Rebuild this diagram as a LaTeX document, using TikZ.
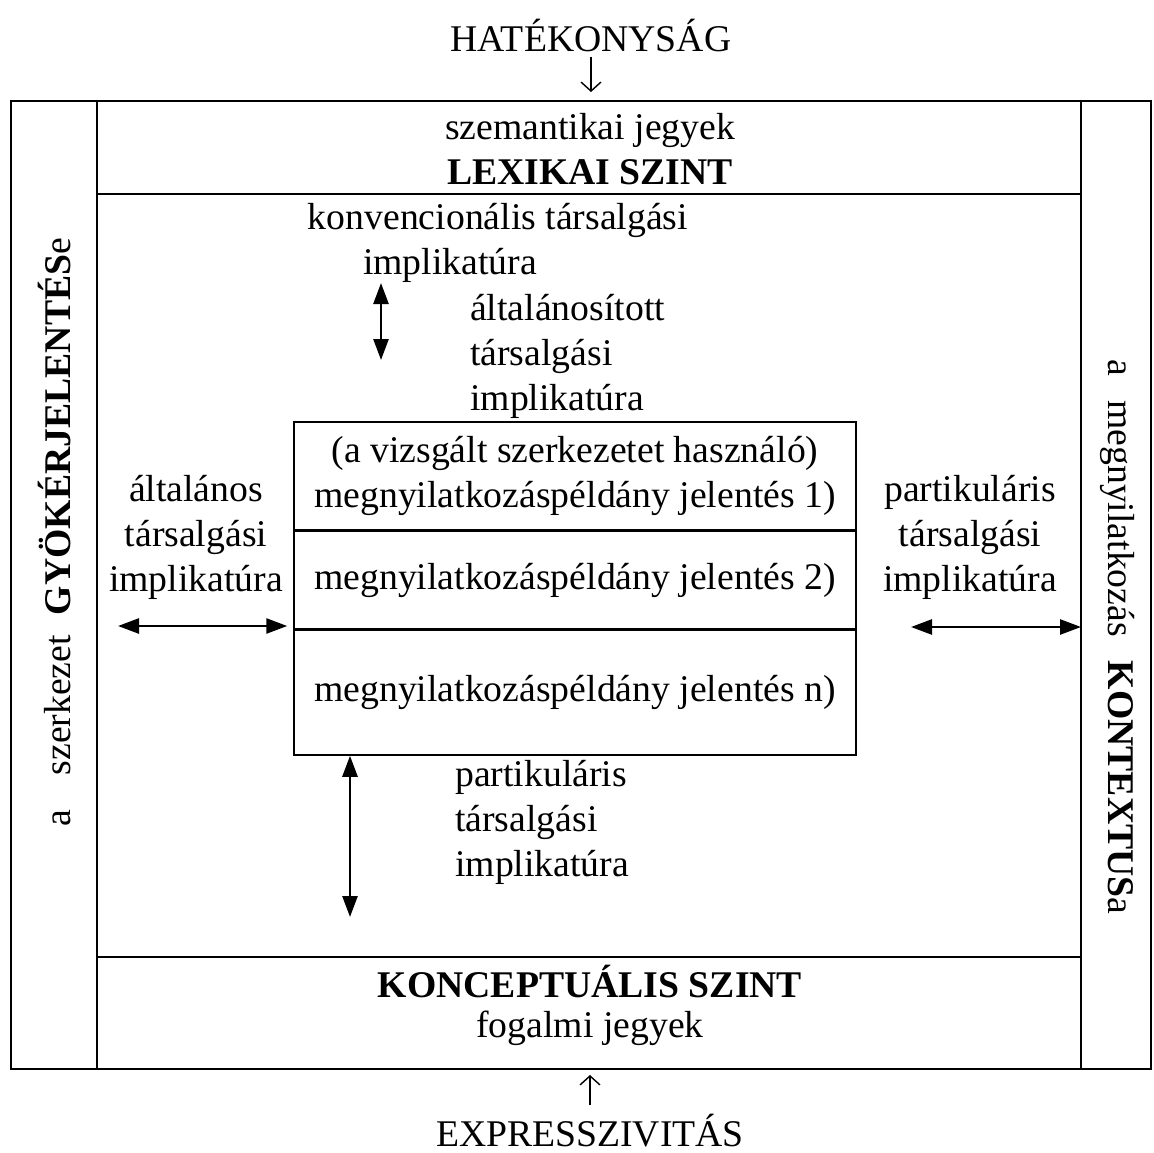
\documentclass[tikz,border=0pt]{standalone}
\usepackage{fontspec}
\setmainfont{Liberation Serif}
\usetikzlibrary{arrows.meta, positioning}

\begin{document}
\begin{tikzpicture}[
    x=1pt, y=-1pt,
    frame/.style={draw, line width=1.5pt},
    txt/.style={
        inner sep=0pt,
        align=center,
        font=\fontsize{37.7}{45}\selectfont
    },
    lefttxt/.style={txt, align=left},
    cell/.style={
        draw,
        line width=1.5pt,
        minimum width=562pt,
        inner sep=0pt,
        align=center,
        font=\fontsize{37.7}{45}\selectfont
    },
    arrow/.style={{Triangle[length=21pt,width=15pt]}-{Triangle[length=21pt,width=15pt]}, line width=2.6pt},
    pointer/.style={-{Straight Barb[length=9pt,width=20pt]}, line width=1.4pt}
]
\useasboundingbox (0,0) rectangle (1154,1153);

% Frame
\coordinate (nw) at (11,101);
\coordinate (se) at (1151,1069);
\coordinate (innerL) at (97,101);
\coordinate (innerR) at (1081,101);
\draw[frame] (nw) rectangle (se);
\draw[frame] (innerL) -- (innerL |- se);
\draw[frame] (innerR) -- (innerR |- se);
\draw[frame] (97,194) -- (1081,194);
\draw[frame] (97,957) -- (1081,957);

% Top and bottom levels
\node[txt, anchor=base] (hat) at (591,52) {HATÉKONYSÁG};
\node[txt] (sem) at (590,130) {szemantikai jegyek};
\node[txt, font=\fontsize{37.7}{45}\selectfont\bfseries] (lex) at (590,172) {LEXIKAI SZINT};
\node[txt, font=\fontsize{37.7}{45}\selectfont\bfseries] (konc) at (590,982) {KONCEPTUÁLIS SZINT};
\node[txt] (fog) at (590,1028) {fogalmi jegyek};
\node[txt, anchor=base] (expr) at (590,1146) {EXPRESSZIVITÁS};

% Side labels
\node[txt, rotate=90] (gyok) at (55,532)
{a\hspace{34pt}szerkezet\hspace{20pt}\textbf{GYÖKÉRJELENTÉS}e};
\node[txt, rotate=-90] (kont) at (1118,637)
{a\hspace{24pt}megnyilatkozás\hspace{24pt}\textbf{KONTEXTUS}a};

% Utterance meanings
\node[cell, minimum height=108pt] (m1) at (575,476)
{(a vizsgált szerkezetet használó)\\megnyilatkozáspéldány jelentés 1)};
\node[cell, minimum height=97pt, below=0pt of m1] (m2)
{megnyilatkozáspéldány jelentés 2)};
\node[cell, minimum height=125pt, below=0pt of m2] (mn)
{megnyilatkozáspéldány jelentés n)};

% Implicatures
\node[txt] (conv1) at (498,220) {konvencionális társalgási};
\node[txt] (conv2) at (450,265) {implikatúra};
\node[lefttxt, anchor=west] (altal) at (470,356) {általánosított\\társalgási\\implikatúra};
\node[txt] (gen) at (196,537) {általános\\társalgási\\implikatúra};
\node[txt] (part) at (970,537) {partikuláris\\társalgási\\implikatúra};
\node[lefttxt, anchor=west] (bpart) at (455,822) {partikuláris\\társalgási\\implikatúra};

% Arrows
\coordinate (topA) at (381,283);
\coordinate (topB) at (381,360);
\coordinate (genL) at (118,626);
\coordinate (partL) at (911,627);
\coordinate (botL) at (350,917);
\draw[arrow] (topA) -- (topB);
\draw[arrow, shorten >=6pt] (genL) -- (genL -| m2.west);
\draw[arrow] (partL) -- (partL -| innerR);
\draw[arrow] (botL) -- (botL |- mn.south);
\draw[pointer, shorten <=4pt, shorten >=9pt] (hat) -- (hat |- nw);
\draw[pointer, shorten <=8pt, shorten >=6pt] (expr) -- (expr |- se);

\end{tikzpicture}
\end{document}
